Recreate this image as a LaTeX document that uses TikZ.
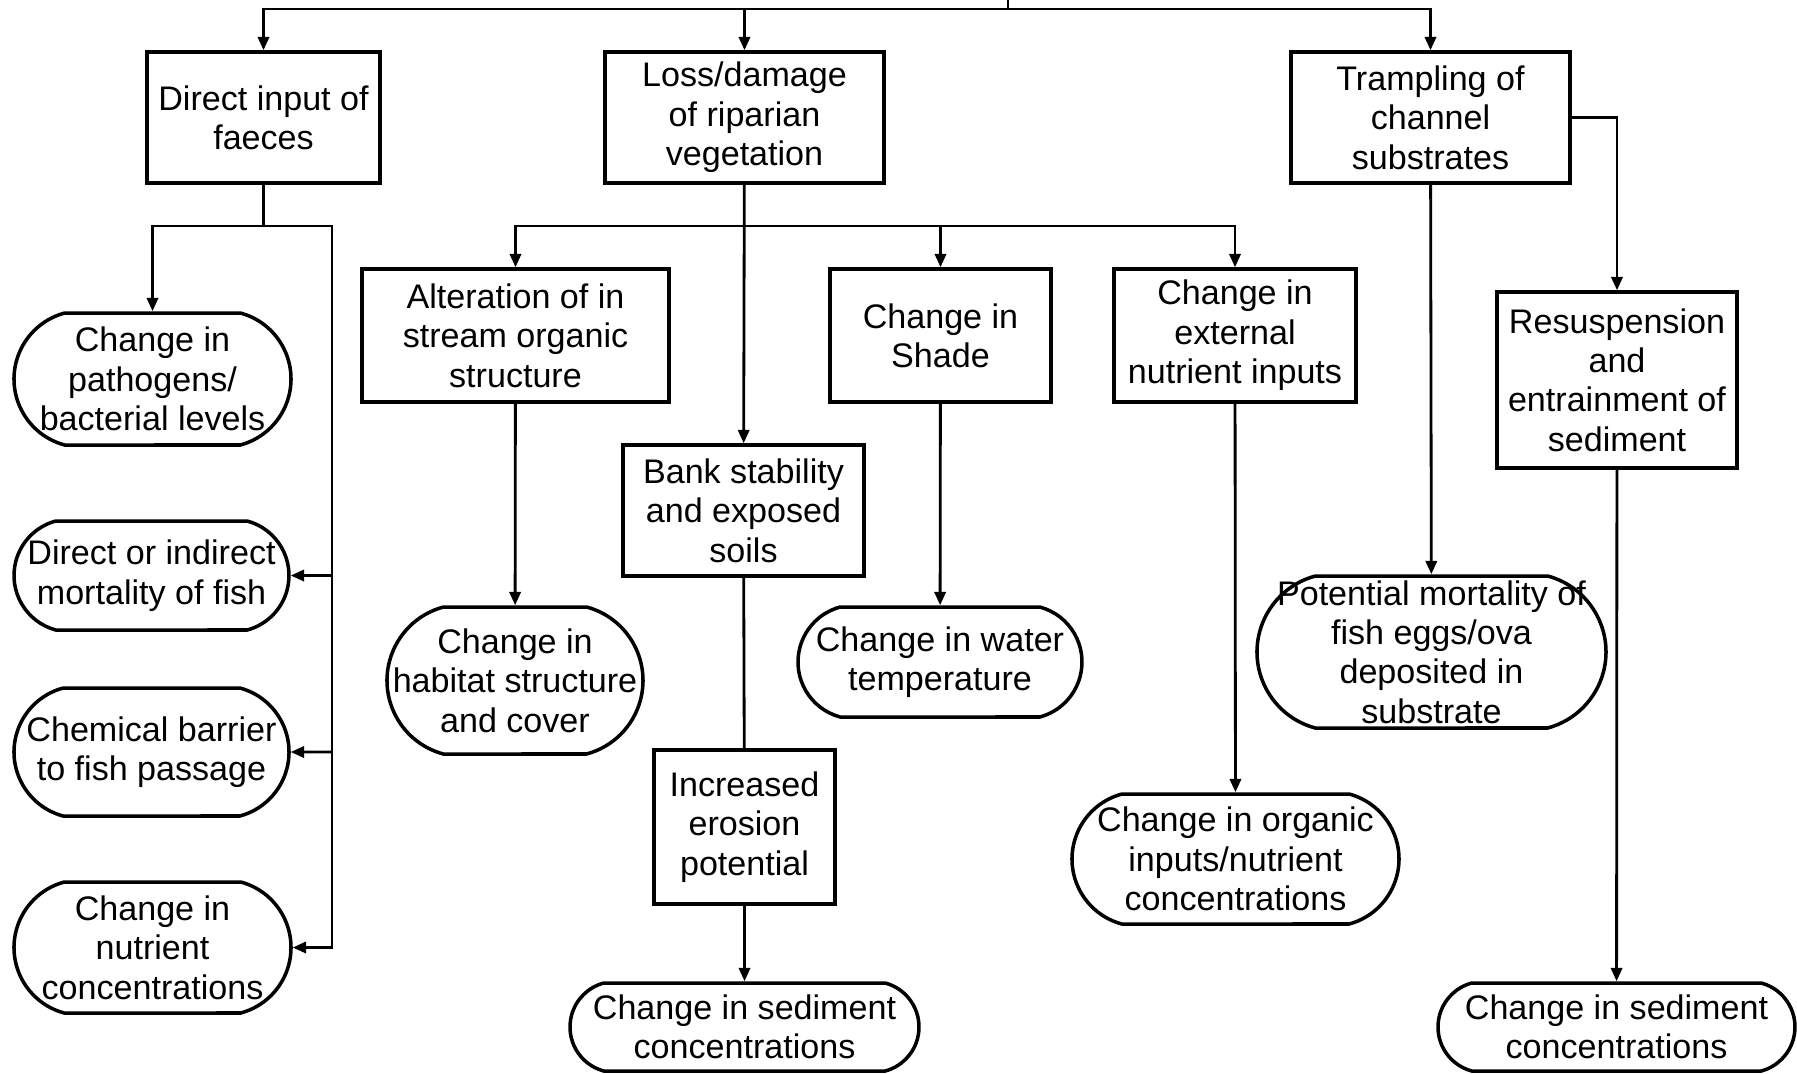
\documentclass[tikz,border=0pt]{standalone}
\usepackage{fontspec}
\setmainfont{Liberation Sans}
\usetikzlibrary{arrows.meta,shapes.misc}

\begin{document}
\begin{tikzpicture}[
    txt/.style={align=center, inner sep=0pt, font=\fontsize{9.7}{11.2}\selectfont},
    box/.style={txt, draw, line width=1pt, rectangle},
    outcome/.style={txt, draw, line width=1pt, rounded rectangle, rounded rectangle arc length=150},
    link/.style={line width=0.8pt},
    arr/.style={link, -{Triangle[length=3.8pt,width=3.2pt]}}
  ]
  \useasboundingbox (0,0) rectangle (17.97,-10.73);
  % Draw the causes
  \node[box, minimum width=2.33cm, minimum height=1.31cm] (faeces) at (2.635,-1.175) {Direct input of\\faeces};
  \node[box, minimum width=2.79cm, minimum height=1.31cm] (riparian) at (7.445,-1.175) {Loss/damage\\of riparian\\vegetation};
  \node[box, minimum width=2.79cm, minimum height=1.31cm] (trampling) at (14.305,-1.175) {Trampling of\\channel\\substrates};
  % Draw the faeces effects
  \node[outcome, minimum width=2.77cm, minimum height=1.32cm] (pathogens) at (1.525,-3.79) {Change in\\pathogens/\\bacterial levels};
  \node[outcome, minimum width=2.75cm, minimum height=1.09cm] (mortality) at (1.515,-5.755) {Direct or indirect\\mortality of fish};
  \node[outcome, minimum width=2.75cm, minimum height=1.28cm] (barrier) at (1.515,-7.52) {Chemical barrier\\to fish passage};
  \node[outcome, minimum width=2.77cm, minimum height=1.31cm] (nutrients) at (1.525,-9.475) {Change in\\nutrient\\concentrations};
  % Draw the vegetation effects
  \node[box, minimum width=3.07cm, minimum height=1.33cm] (alteration) at (5.155,-3.355) {Alteration of in\\stream organic\\structure};
  \node[box, minimum width=2.21cm, minimum height=1.33cm] (shade) at (9.405,-3.355) {Change in\\Shade};
  \node[box, minimum width=2.42cm, minimum height=1.33cm] (external) at (12.35,-3.355) {Change in\\external\\nutrient inputs};
  \node[box, minimum width=2.41cm, minimum height=1.31cm] (bank) at (7.435,-5.105) {Bank stability\\and exposed\\soils};
  \node[outcome, minimum width=2.56cm, minimum height=1.47cm,
        label={[txt]center:{Change in\\habitat structure\\and cover}}] (habitat) at (5.15,-6.805) {};
  \node[outcome, minimum width=2.84cm, minimum height=1.10cm] (water) at (9.40,-6.62) {Change in water\\temperature};
  \node[box, minimum width=1.81cm, minimum height=1.54cm] (erosion) at (7.445,-8.27) {Increased\\erosion\\potential};
  \node[outcome, minimum width=3.49cm, minimum height=0.88cm] (sedmid) at (7.445,-10.27) {Change in sediment\\concentrations};
  \node[outcome, minimum width=3.27cm, minimum height=1.30cm] (organic) at (12.355,-8.59) {Change in organic\\inputs/nutrient\\concentrations};
  % Draw the trampling effects
  \node[box, minimum width=2.40cm, minimum height=1.76cm] (resusp) at (16.17,-3.80) {Resuspension\\and\\entrainment of\\sediment};
  \node[outcome, minimum width=3.49cm, minimum height=1.52cm,
        label={[txt]center:{Potential mortality of\\fish eggs/ova\\deposited in\\substrate}}] (eggs) at (14.315,-6.52) {};
  \node[outcome, minimum width=3.57cm, minimum height=0.88cm] (sedright) at (16.165,-10.27) {Change in sediment\\concentrations};

  % Draw the connectors from above
  \coordinate (top) at (10.08,0);
  \coordinate (split) at (10.08,-0.09);
  \draw[link] (top) -- (split);
  \draw[arr] (split) -| (faeces);
  \draw[arr] (split) -| (trampling);
  \draw[arr] (riparian.north |- split) -- (riparian);
  % Faeces branches
  \coordinate (fjoin) at (2.635,-2.26);
  \coordinate (fbus) at (3.32,-2.26);
  \draw[link] (faeces) -- (fjoin);
  \draw[arr] (fjoin) -| (pathogens);
  \draw[arr] (fjoin) -- (fbus) |- (nutrients);
  \draw[arr] (fbus |- mortality.east) -- (mortality);
  \draw[arr] (fbus |- barrier.east) -- (barrier);
  % Vegetation branches
  \coordinate (rjoin) at (7.445,-2.26);
  \draw[arr] (riparian) -- (bank);
  \draw[arr] (rjoin) -| (alteration);
  \draw[arr] (rjoin) -| (external);
  \draw[arr] (rjoin -| shade) -- (shade);
  \draw[arr] (alteration) -- (habitat);
  \draw[arr] (shade) -- (water);
  \draw[arr] (external) -- (organic);
  \draw[link] (bank) -- (erosion);
  \draw[arr] (erosion) -- (sedmid);
  % Trampling branches
  \draw[arr] (trampling) -- (eggs);
  \draw[arr] (trampling.east) -| (resusp);
  \draw[arr] (resusp) -- (sedright);
\end{tikzpicture}
\end{document}
